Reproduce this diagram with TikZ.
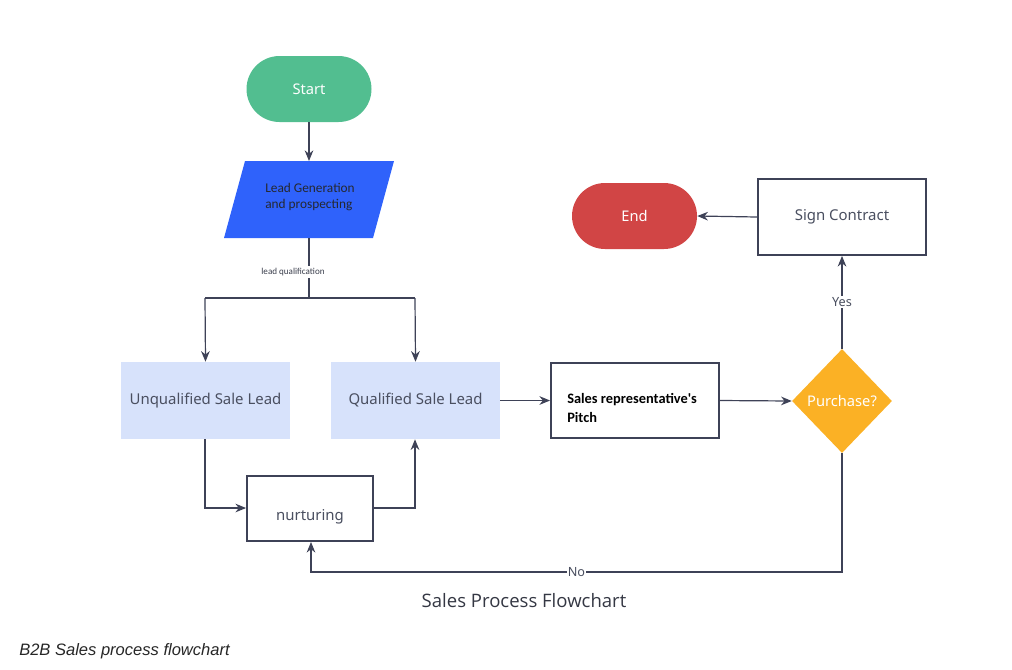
\documentclass[tikz,border=0pt]{standalone}
\usepackage{fontspec}
\setmainfont{Noto Sans}
\newfontfamily\calib{Carlito}
\newfontfamily\capfont{Open Sans}
\newfontfamily\notefont{Liberation Sans}
\usetikzlibrary{shapes.geometric,shapes.misc,arrows.meta}
\definecolor{lineC}{HTML}{3E4257}
\definecolor{startG}{HTML}{52BE90}
\definecolor{blueP}{HTML}{2F62FB}
\definecolor{lightB}{HTML}{D7E2FB}
\definecolor{endR}{HTML}{D14545}
\definecolor{orangeD}{HTML}{FBB125}
\definecolor{txtG}{HTML}{4A4F60}
\tikzset{
  px/.style={x=0.75pt,y=-0.75pt},
  conn/.style={draw=lineC,line width=0.9pt},
  arr/.style={conn,-{Stealth[length=8pt,width=6.5pt]}},
  stadium/.style={rounded rectangle},
  lbl/.style={fill=white,inner sep=1pt,text=txtG,font=\fontsize{9.5}{11}\selectfont},
  lightbox/.style={fill=lightB,draw=none,text=txtG,font=\fontsize{11.2}{13}\selectfont},
  outbox/.style={draw=lineC,line width=1.4pt,fill=white,text=txtG,font=\fontsize{11.2}{13}\selectfont},
}
\begin{document}
\begin{tikzpicture}[px]
\useasboundingbox (0,0) rectangle (1012,669);
% Start
\node[stadium,fill=startG,minimum width=125*0.75pt,minimum height=66*0.75pt,inner xsep=0pt,text width=90*0.75pt,align=center,text=white,font=\fontsize{11}{13}\selectfont] (start) at (309,89) {Start};
% parallelogram
\coordinate (pTL) at (245,161); \coordinate (pTR) at (394,161);
\coordinate (pBR) at (373,238); \coordinate (pBL) at (224,238);
\fill[blueP] (pTL) -- (pTR) -- (pBR) -- (pBL) -- cycle;
\coordinate (ptop) at (309,161);
\coordinate (pbot) at (309,238);
\node[anchor=west,align=left,text=txtG!50!black,font=\calib\fontsize{10}{12.5}\selectfont,inner sep=0pt] (lg) at (265,197) {Lead Generation\\and prospecting};
\draw[arr] (start.south) -- (ptop);
% split
\coordinate (split) at (309,298);
\coordinate (sl) at (205,298);
\coordinate (sr) at (415,298);
\draw[conn] (pbot) -- (split);
\node[fill=white,inner sep=1.5pt,text=txtG!80!black,font=\calib\fontsize{6.8}{8}\selectfont] (lq) at (293,272) {lead qualification};
% boxes
\node[lightbox,minimum width=169*0.75pt,minimum height=77*0.75pt] (unq) at (205.5,400.5) {Unqualified Sale Lead};
\node[lightbox,minimum width=169*0.75pt,minimum height=77*0.75pt] (qual) at (415.5,400.5) {Qualified Sale Lead};
\draw[conn] (sl) -- (sr);
\draw[arr] (sl) -- (unq.north);
\draw[arr] (sr) -- (qual.north);
% pitch
\node[draw=lineC,line width=1.4pt,fill=white,minimum width=168*0.75pt,minimum height=75*0.75pt] (pitch) at (635,400.5) {};
\node[anchor=west,align=left,font=\calib\bfseries\fontsize{10.8}{14}\selectfont,inner sep=0pt] (pitchtxt) at (567,408) {Sales representative's\\Pitch};
\draw[arr] (qual.east) -- (pitch.west);
% diamond
\node[diamond,fill=orangeD,minimum width=100*0.75pt,minimum height=104*0.75pt,inner sep=0pt,text=white,font=\fontsize{11}{13}\selectfont] (dec) at (842,401) {Purchase?};
\draw[arr] (pitch.east) -- (dec.west);
% sign contract
\node[outbox,minimum width=168*0.75pt,minimum height=76*0.75pt] (sign) at (842,217) {Sign Contract};
\draw[arr] (dec.north) -- node[lbl] {Yes} (sign.south);
% End
\node[stadium,fill=endR,minimum width=125*0.75pt,minimum height=66*0.75pt,inner xsep=0pt,text width=90*0.75pt,align=center,text=white,font=\fontsize{11}{13}\selectfont] (end) at (634.5,216) {End};
\draw[arr] (sign.west) -- (end.east);
% nurturing
\node[outbox,minimum width=126*0.75pt,minimum height=65*0.75pt] (nurt) at (310,508.5) {};
\node[text=txtG,font=\fontsize{11.2}{13}\selectfont] (nurtxt) at (310,517) {nurturing};
\coordinate (c1) at (842,572);
\coordinate (c2) at (311,572);
\draw[arr] (dec.south) -- (c1) -- node[lbl,pos=0.5] {No} (c2) -- (nurt.south -| c2);
\coordinate (u1) at (205,508);
\draw[arr] (unq.south -| u1) -- (u1) -- (nurt.west |- u1);
\coordinate (q1) at (415,508);
\draw[arr] (nurt.east |- q1) -- (q1) -- (qual.south -| q1);
% captions
\node[text=txtG!70!black,font=\capfont\fontsize{13.9}{16}\selectfont] (cap) at (524,601) {Sales Process Flowchart};
\node[anchor=west,text=black!85,font=\notefont\itshape\fontsize{12.4}{14}\selectfont,inner sep=0pt] (note) at (19,651) {B2B Sales process flowchart};
\end{tikzpicture}
\end{document}
